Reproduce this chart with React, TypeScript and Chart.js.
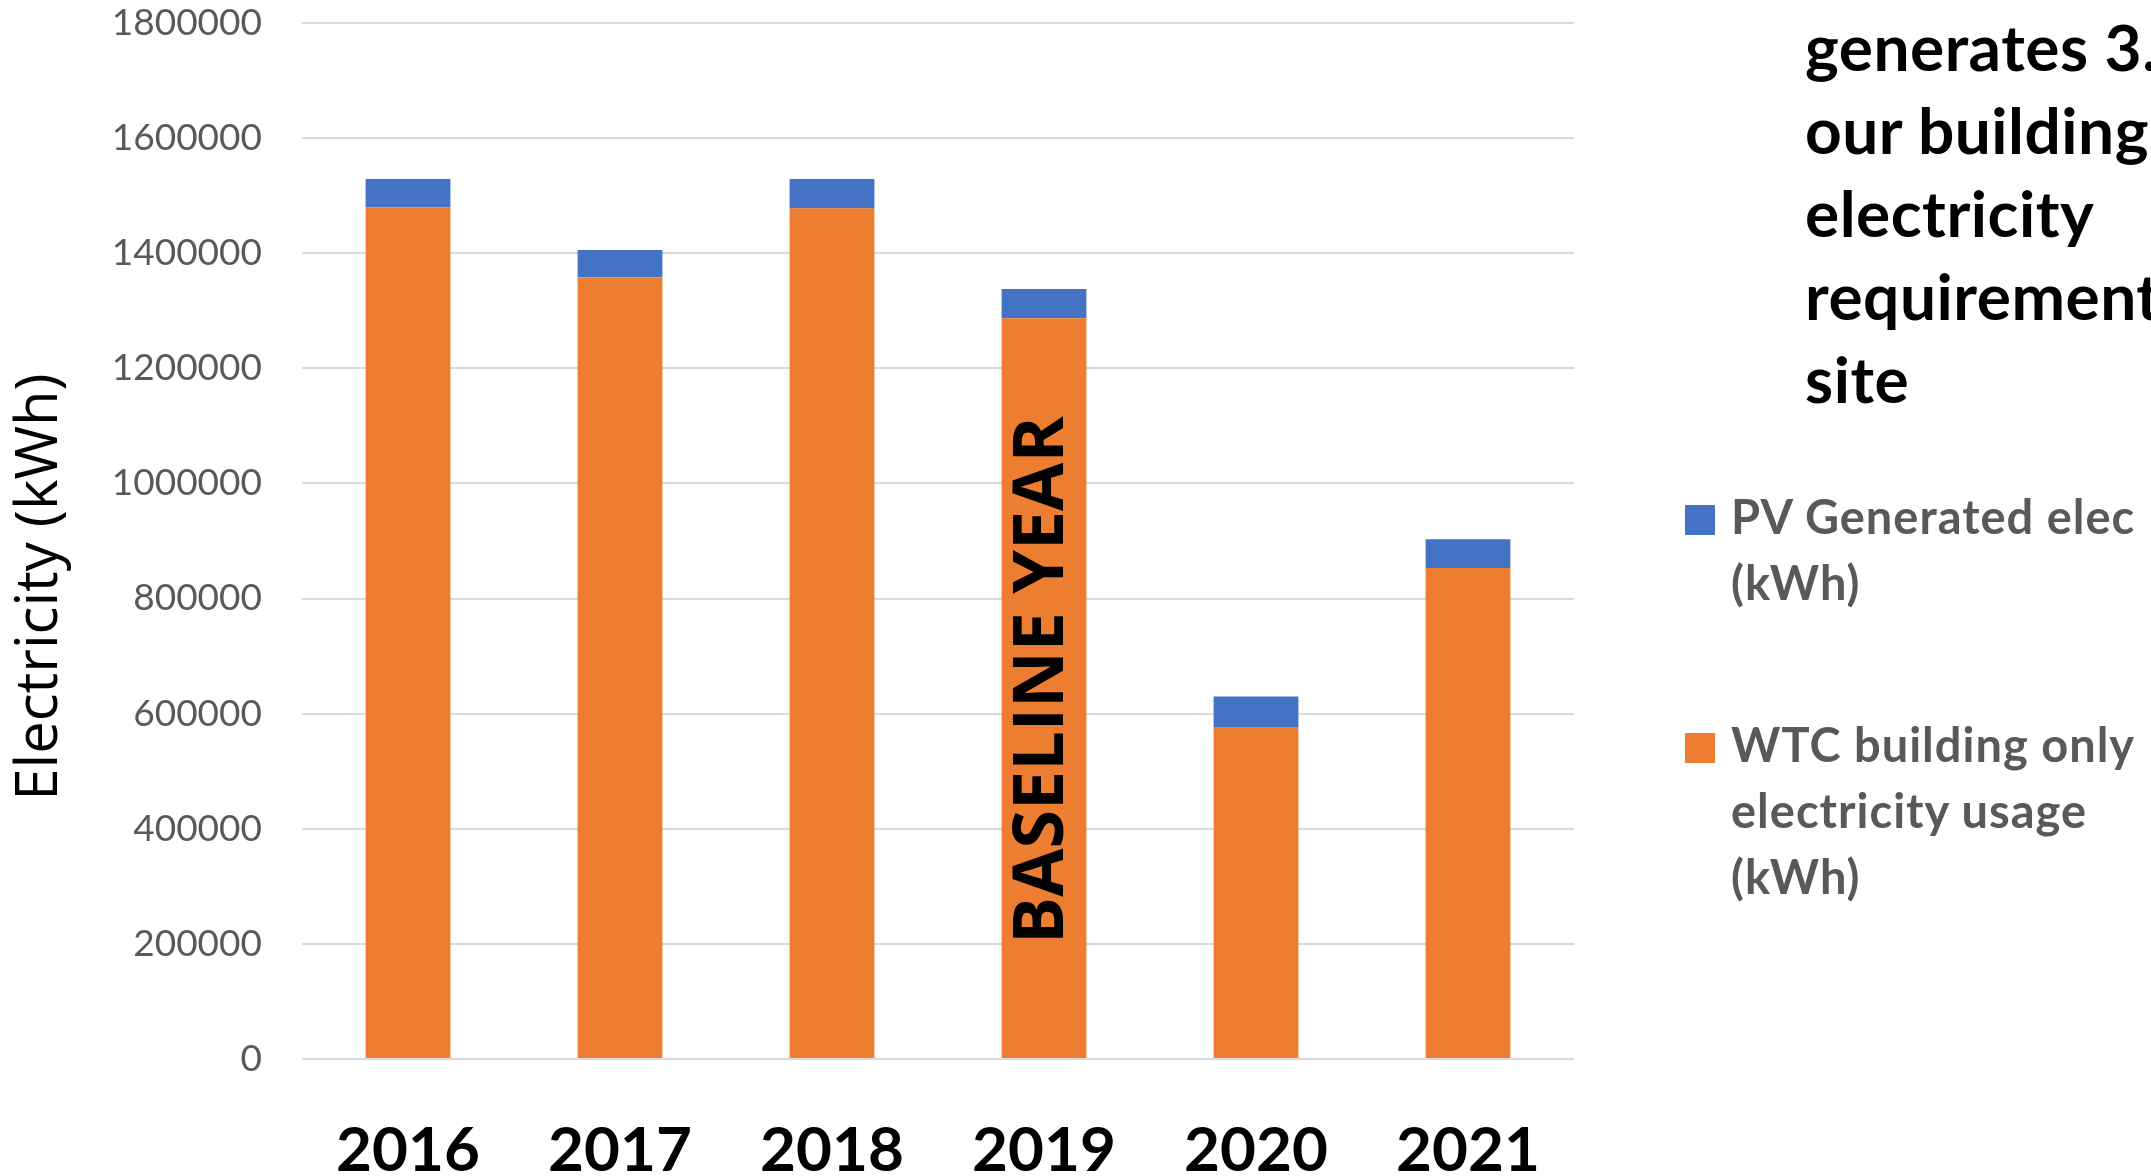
import React, { useEffect, useRef } from "react";
import { Chart, registerables } from "chart.js";

Chart.register(...registerables);

const years = ["2016", "2017", "2018", "2019", "2020", "2021"];
const wtcUsage = [1480000, 1358000, 1478000, 1287000, 577000, 853000];
const pvGenerated = [49000, 47500, 51000, 51000, 53000, 50000];
const yTicks = [0, 200000, 400000, 600000, 800000, 1000000, 1200000, 1400000, 1600000, 1800000];
const sideTextLines = ["generates 3.", "our building", "electricity", "requirement", "site"];
const legendPV = ["PV Generated elec", "(kWh)"];
const legendWTC = ["WTC building only", "electricity usage", "(kWh)"];

const ORANGE = "#ED7D31";
const BLUE = "#4472C4";

const W = 2151;
const H = 1176;

const textPlugin = {
  id: "extraText",
  afterDatasetsDraw(chart: any) {
    const ctx = chart.ctx;
    const xs = chart.scales.x;
    const ys = chart.scales.y;
    // BASELINE YEAR label on the 2019 bar
    ctx.save();
    const bx = xs.getPixelForValue(3) + 18.5;
    const by = ys.getPixelForValue(200000);
    ctx.translate(bx, by);
    ctx.rotate(-Math.PI / 2);
    ctx.font = "bold 70px 'Open Sans'";
    ctx.fillStyle = "#000000";
    ctx.textAlign = "left";
    ctx.textBaseline = "alphabetic";
    ctx.fillText("BASELINE YEAR", 0, 0);
    ctx.restore();

    // Y axis title
    ctx.save();
    ctx.translate(57, 587);
    ctx.rotate(-Math.PI / 2);
    ctx.font = "58px 'Open Sans'";
    ctx.fillStyle = "#000000";
    ctx.textAlign = "center";
    ctx.textBaseline = "alphabetic";
    ctx.fillText("Electricity (kWh)", 0, 0);
    ctx.restore();
  },
};

export default function App() {
  const canvasRef = useRef<HTMLCanvasElement | null>(null);

  useEffect(() => {
    if (!canvasRef.current) return;
    const chart = new Chart(canvasRef.current, {
      type: "bar",
      data: {
        labels: years,
        datasets: [
          {
            label: "WTC building only electricity usage (kWh)",
            data: wtcUsage,
            backgroundColor: ORANGE,
            borderWidth: 0,
            barPercentage: 0.4,
            categoryPercentage: 1,
          },
          {
            label: "PV Generated elec (kWh)",
            data: pvGenerated,
            backgroundColor: BLUE,
            borderWidth: 0,
            barPercentage: 0.4,
            categoryPercentage: 1,
          },
        ],
      },
      options: {
        responsive: false,
        animation: false,
        devicePixelRatio: 1,
        layout: { padding: { top: 23, right: 577, bottom: 0, left: 0 } },
        plugins: {
          legend: { display: false },
          tooltip: { enabled: false },
          title: { display: false },
        },
        scales: {
          x: {
            stacked: true,
            grid: { display: false, drawTicks: false },
            border: { display: false },
            ticks: {
              color: "#000000",
              font: { family: "Lato", weight: "bold", size: 62 },
              padding: 55,
              maxRotation: 0,
              autoSkip: false,
            },
            afterFit: (scale: any) => {
              scale.height = 117;
              scale.paddingLeft = 0;
              scale.paddingRight = 0;
            },
          },
          y: {
            stacked: true,
            min: yTicks[0],
            max: yTicks[yTicks.length - 1],
            afterBuildTicks: (scale: any) => {
              scale.ticks = yTicks.map((v) => ({ value: v }));
            },
            grid: { color: "#d9d9d9", lineWidth: 2, drawTicks: false },
            border: { display: false },
            ticks: {
              color: "#595959",
              font: { family: "Lato", size: 37 },
              padding: 40,
              callback: (v: any) => String(v),
            },
            afterFit: (scale: any) => {
              scale.width = 302;
              scale.paddingTop = 0;
              scale.paddingBottom = 0;
            },
          },
        },
      },
      plugins: [textPlugin],
    });
    return () => chart.destroy();
  }, []);

  const legendItem = (color: string, lines: string[], top: number, boxTop: number) => (
    <>
      <div
        style={{
          position: "absolute",
          left: 1685,
          top: boxTop,
          width: 30,
          height: 30,
          background: color,
        }}
      />
      <div
        style={{
          position: "absolute",
          left: 1731,
          top,
          font: "bold 47px Lato",
          letterSpacing: "1px",
          lineHeight: "66px",
          color: "#595959",
          whiteSpace: "nowrap",
        }}
      >
        {lines.map((l, i) => (
          <div key={i}>{l}</div>
        ))}
      </div>
    </>
  );

  return (
    <div
      style={{
        position: "fixed",
        left: 0,
        top: 0,
        width: W,
        height: H,
        overflow: "hidden",
        background: "#ffffff",
      }}
    >
      <canvas
        ref={canvasRef}
        width={W}
        height={H}
        style={{ position: "absolute", left: 0, top: 0, width: W, height: H }}
      />
      <div
        style={{
          position: "absolute",
          left: 1805,
          top: 5,
          font: "bold 64px Lato",
          letterSpacing: "0.5px",
          lineHeight: "83px",
          color: "#000000",
          whiteSpace: "nowrap",
        }}
      >
        {sideTextLines.map((l, i) => (
          <div key={i}>{l}</div>
        ))}
      </div>
      {legendItem(BLUE, legendPV, 483, 505)}
      {legendItem(ORANGE, legendWTC, 711, 733)}
    </div>
  );
}
